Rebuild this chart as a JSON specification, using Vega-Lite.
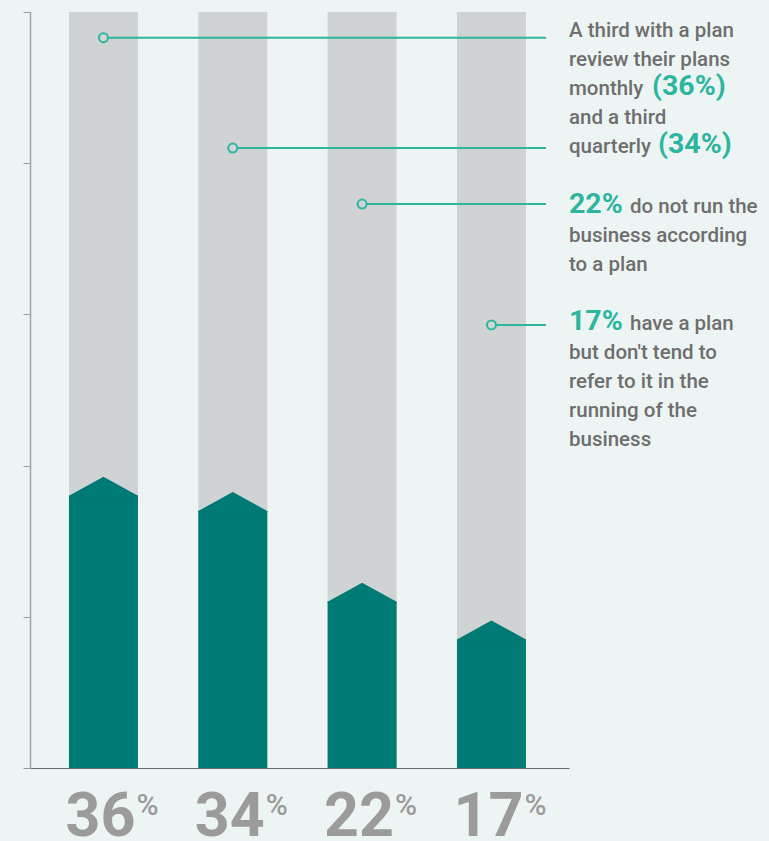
{
  "$schema": "https://vega.github.io/schema/vega-lite/v6.json",
  "width": 539,
  "height": 756,
  "autosize": {"type": "none"},
  "padding": {"left": 30, "top": 12, "right": 200, "bottom": 73},
  "background": "#edf5f4",
  "config": {"view": {"stroke": null}, "font": "Roboto"},
  "datasets": {
    "bars": [
      {"group": "Review monthly", "value": 36, "callout": 96.6},
      {"group": "Review quarterly", "value": 34, "callout": 82.0},
      {"group": "No plan", "value": 22, "callout": 74.6},
      {"group": "Plan not referred to", "value": 17, "callout": 58.6}
    ],
    "notes": [
      {"text": "A third with a plan", "kind": "plain", "y": 96.7},
      {"text": "review their plans", "kind": "plain", "y": 92.9},
      {"text": "monthly", "kind": "plain", "y": 89.0},
      {"text": "(36%)", "kind": "pctA", "y": 89.0},
      {"text": "and a third", "kind": "plain", "y": 85.2},
      {"text": "quarterly", "kind": "plain", "y": 81.4},
      {"text": "(34%)", "kind": "pctB", "y": 81.4},
      {"text": "22%", "kind": "lead", "y": 73.4},
      {"text": "do not run the", "kind": "after", "y": 73.4},
      {"text": "business according", "kind": "plain", "y": 69.6},
      {"text": "to a plan", "kind": "plain", "y": 65.7},
      {"text": "17%", "kind": "lead", "y": 57.9},
      {"text": "have a plan", "kind": "after", "y": 57.9},
      {"text": "but don't tend to", "kind": "plain", "y": 54.1},
      {"text": "refer to it in the", "kind": "plain", "y": 50.3},
      {"text": "running of the", "kind": "plain", "y": 46.4},
      {"text": "business", "kind": "plain", "y": 42.6}
    ]
  },
  "data": {"name": "bars"},
  "layer": [
    {
      "mark": {"type": "bar", "color": "#cfd3d4"},
      "encoding": {
        "x": {
          "field": "group", "type": "nominal", "sort": null,
          "scale": {"paddingInner": 0.4665, "paddingOuter": 0.317, "align": 0.475},
          "axis": {"title": null, "labels": false, "ticks": false, "domainColor": "#6b6b6b", "domainWidth": 1}
        },
        "y": {
          "datum": 100, "type": "quantitative",
          "scale": {"domain": [0, 100], "nice": false},
          "axis": {"title": null, "labels": false, "grid": false, "values": [0, 20, 40, 60, 80, 100], "tickSize": 7, "tickColor": "#9a9a9a", "tickWidth": 1, "domainColor": "#a5a5a5", "domainWidth": 1.5}
        }
      }
    },
    {
      "mark": {"type": "bar", "color": "#007a74"},
      "encoding": {
        "x": {"field": "group", "type": "nominal", "sort": null},
        "y": {"field": "value", "type": "quantitative"}
      }
    },
    {
      "mark": {"type": "point", "shape": "M-1,0.04L-1,0L0,-0.551L1,0L1,0.04Z", "size": 4761, "filled": true, "color": "#007a74", "opacity": 1, "strokeWidth": 0},
      "encoding": {
        "x": {"field": "group", "type": "nominal", "sort": null},
        "y": {"field": "value", "type": "quantitative"}
      }
    },
    {
      "mark": {"type": "rule", "color": "#2db59f", "strokeWidth": 2, "x2Offset": -23},
      "encoding": {
        "x": {"field": "group", "type": "nominal", "sort": null},
        "x2": {"value": "width"},
        "y": {"field": "callout", "type": "quantitative"}
      }
    },
    {
      "mark": {"type": "point", "shape": "circle", "size": 80, "filled": true, "fill": "#d3d6d7", "stroke": "#2db59f", "strokeWidth": 2, "opacity": 1},
      "encoding": {
        "x": {"field": "group", "type": "nominal", "sort": null},
        "y": {"field": "callout", "type": "quantitative"}
      }
    },
    {
      "mark": {"type": "text", "align": "right", "baseline": "alphabetic", "dx": 32, "dy": 68, "fontSize": 61, "fontWeight": "bold", "color": "#9b9b9b"},
      "encoding": {
        "x": {"field": "group", "type": "nominal", "sort": null},
        "y": {"datum": 0, "type": "quantitative"},
        "text": {"field": "value", "type": "quantitative"}
      }
    },
    {
      "mark": {"type": "text", "align": "left", "baseline": "alphabetic", "dx": 33, "dy": 47, "fontSize": 30, "fontWeight": 500, "color": "#9b9b9b"},
      "encoding": {
        "x": {"field": "group", "type": "nominal", "sort": null},
        "y": {"datum": 0, "type": "quantitative"},
        "text": {"value": "%"}
      }
    },
    {
      "data": {"name": "notes"},
      "transform": [{"filter": "datum.kind === 'plain'"}],
      "mark": {"type": "text", "align": "left", "baseline": "alphabetic", "fontSize": 20.5, "fontWeight": 500, "color": "#6e6e6e"},
      "encoding": {
        "x": {"value": "width"},
        "y": {"field": "y", "type": "quantitative"},
        "text": {"field": "text", "type": "nominal"}
      }
    },
    {
      "data": {"name": "notes"},
      "transform": [{"filter": "datum.kind === 'after'"}],
      "mark": {"type": "text", "align": "left", "baseline": "alphabetic", "dx": 61, "fontSize": 20.5, "fontWeight": 500, "color": "#6e6e6e"},
      "encoding": {
        "x": {"value": "width"},
        "y": {"field": "y", "type": "quantitative"},
        "text": {"field": "text", "type": "nominal"}
      }
    },
    {
      "data": {"name": "notes"},
      "transform": [{"filter": "datum.kind === 'lead'"}],
      "mark": {"type": "text", "align": "left", "baseline": "alphabetic", "fontSize": 28.5, "fontWeight": "bold", "color": "#2db59f"},
      "encoding": {
        "x": {"value": "width"},
        "y": {"field": "y", "type": "quantitative"},
        "text": {"field": "text", "type": "nominal"}
      }
    },
    {
      "data": {"name": "notes"},
      "transform": [{"filter": "datum.kind === 'pctA'"}],
      "mark": {"type": "text", "align": "left", "baseline": "alphabetic", "dx": 83, "fontSize": 28.5, "fontWeight": "bold", "color": "#2db59f"},
      "encoding": {
        "x": {"value": "width"},
        "y": {"field": "y", "type": "quantitative"},
        "text": {"field": "text", "type": "nominal"}
      }
    },
    {
      "data": {"name": "notes"},
      "transform": [{"filter": "datum.kind === 'pctB'"}],
      "mark": {"type": "text", "align": "left", "baseline": "alphabetic", "dx": 89, "fontSize": 28.5, "fontWeight": "bold", "color": "#2db59f"},
      "encoding": {
        "x": {"value": "width"},
        "y": {"field": "y", "type": "quantitative"},
        "text": {"field": "text", "type": "nominal"}
      }
    }
  ]
}
